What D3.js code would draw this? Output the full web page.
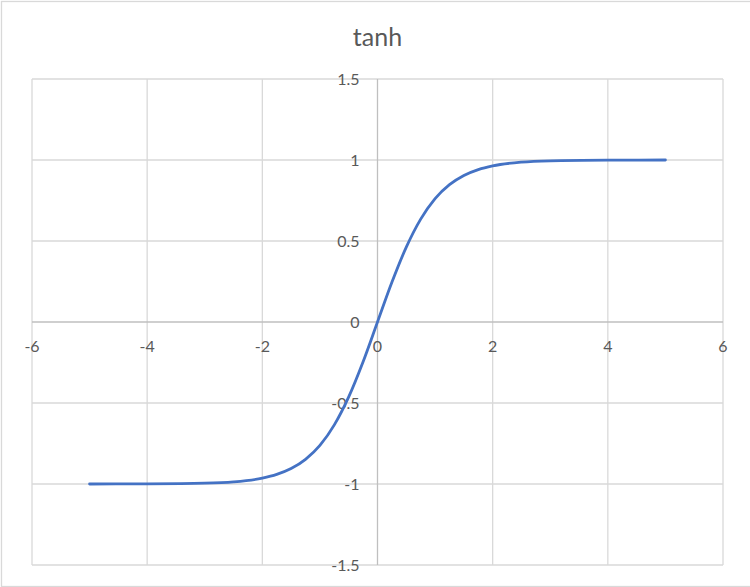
<!DOCTYPE html>
<html>
<head>
<meta charset="utf-8">
<script src="https://cdn.jsdelivr.net/npm/d3@7"></script>
<style>
  html, body { margin: 0; padding: 0; background: #fff; }
</style>
</head>
<body>
<div id="chart"></div>
<script>
// 数据
const title = "tanh";
const xValues = [-5, -4, -3, -2.5, -2, -1.75, -1.5, -1.25, -1, -0.75, -0.5, -0.25, 0,
                 0.25, 0.5, 0.75, 1, 1.25, 1.5, 1.75, 2, 2.5, 3, 4, 5];
const yValues = [-1.0, -0.999, -0.995, -0.987, -0.964, -0.941, -0.905, -0.848, -0.762, -0.635, -0.462, -0.245, 0,
                 0.245, 0.462, 0.635, 0.762, 0.848, 0.905, 0.941, 0.964, 0.987, 0.995, 0.999, 1.0];
const xTicks = [-6, -4, -2, 0, 2, 4, 6];
const yTicks = [-1.5, -1, -0.5, 0, 0.5, 1, 1.5];

const width = 750;
const height = 587;
const plot = { left: 32, right: 723, top: 79, bottom: 565 };
const font = "Lato, 'Open Sans', sans-serif";
const textColor = "#595959";

const points = xValues.map((x, i) => ({ x: x, y: yValues[i] }));

const svg = d3.select("#chart")
    .append("svg")
    .attr("width", width)
    .attr("height", height)
    .attr("viewBox", `0 0 ${width} ${height}`);

// 外框
svg.append("rect")
    .attr("x", 1.5)
    .attr("y", 1.5)
    .attr("width", width + 5)
    .attr("height", 585)
    .attr("fill", "#fff")
    .attr("stroke", "#d9d9d9")
    .attr("stroke-width", 1.3);

const xScale = d3.scaleLinear().domain([-6, 6]).range([plot.left, plot.right]);
const yScale = d3.scaleLinear().domain([-1.5, 1.5]).range([plot.bottom, plot.top]);

// 网格线
svg.append("g").selectAll("line")
    .data(xTicks.filter(t => t !== 0))
    .join("line")
    .attr("x1", d => xScale(d)).attr("x2", d => xScale(d))
    .attr("y1", plot.top).attr("y2", plot.bottom)
    .attr("stroke", "#d9d9d9")
    .attr("stroke-width", 1.3);

svg.append("g").selectAll("line")
    .data(yTicks.filter(t => t !== 0))
    .join("line")
    .attr("x1", plot.left).attr("x2", plot.right)
    .attr("y1", d => yScale(d)).attr("y2", d => yScale(d))
    .attr("stroke", "#d9d9d9")
    .attr("stroke-width", 1.3);

// 坐标轴 (穿过0)
svg.append("line")
    .attr("x1", plot.left).attr("x2", plot.right)
    .attr("y1", yScale(0)).attr("y2", yScale(0))
    .attr("stroke", "#bfbfbf")
    .attr("stroke-width", 1.3);
svg.append("line")
    .attr("x1", xScale(0)).attr("x2", xScale(0))
    .attr("y1", plot.top).attr("y2", plot.bottom)
    .attr("stroke", "#bfbfbf")
    .attr("stroke-width", 1.3);

// 刻度标签
svg.append("g").selectAll("text")
    .data(xTicks)
    .join("text")
    .attr("x", d => xScale(d))
    .attr("y", yScale(0) + 30)
    .attr("text-anchor", "middle")
    .style("font-family", font)
    .style("font-size", "16px")
    .style("fill", textColor)
    .text(d => d);

svg.append("g").selectAll("text")
    .data(yTicks)
    .join("text")
    .attr("x", xScale(0) - 18)
    .attr("y", d => yScale(d) + 6)
    .attr("text-anchor", "end")
    .style("font-family", font)
    .style("font-size", "16px")
    .style("fill", textColor)
    .text(d => d);

// 曲线
const line = d3.line()
    .x(d => xScale(d.x))
    .y(d => yScale(d.y))
    .curve(d3.curveMonotoneX);

svg.append("path")
    .datum(points)
    .attr("fill", "none")
    .attr("stroke", "#4472c4")
    .attr("stroke-width", 2.8)
    .attr("stroke-linecap", "round")
    .attr("d", line);

// 标题
svg.append("text")
    .attr("x", xScale(0))
    .attr("y", 46)
    .attr("text-anchor", "middle")
    .style("font-family", font)
    .style("font-size", "25px")
    .style("fill", textColor)
    .text(title);
</script>
</body>
</html>
